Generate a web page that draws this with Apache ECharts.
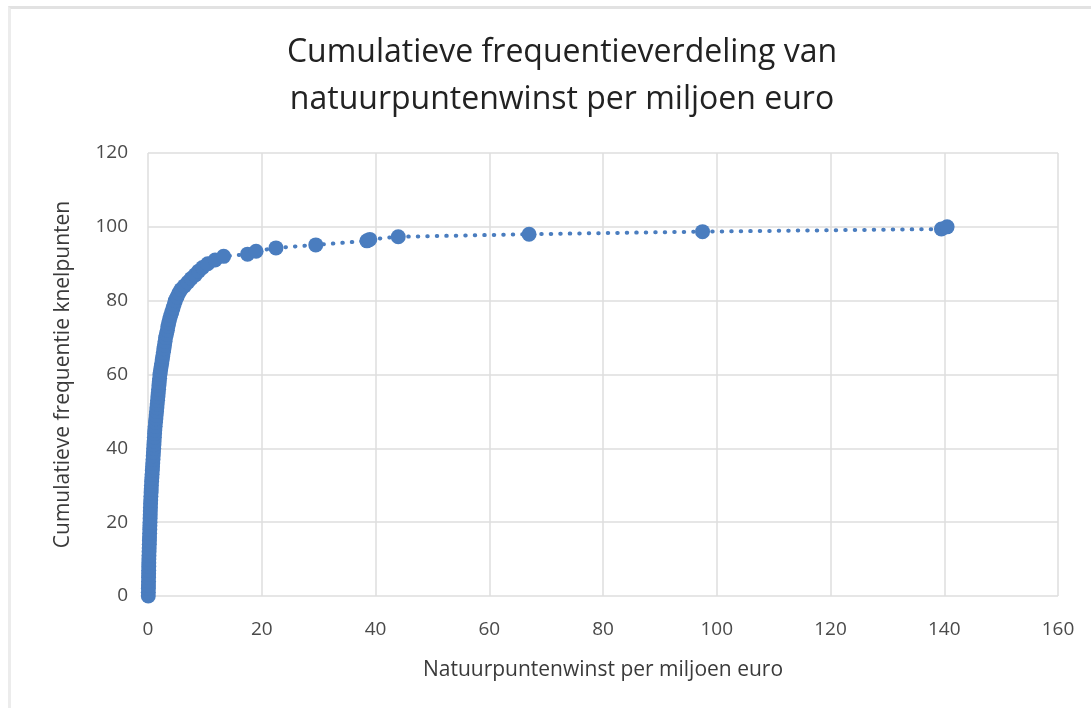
<!DOCTYPE html>
<html>
<head>
<meta charset="utf-8">
<script src="https://cdn.jsdelivr.net/npm/echarts@6/dist/echarts.min.js"></script>
<style>
  html, body { margin: 0; padding: 0; background: #fff; }
  #wrap { position: relative; width: 1091px; height: 708px; }
  #frame { position: absolute; left: 8px; top: 6px; right: 0; bottom: 0;
           border-top: 3px solid #e2e2e2; border-left: 3px solid #ececec; }
  #chart { position: absolute; left: 0; top: 0; width: 1091px; height: 708px; }
</style>
</head>
<body>
<div id="wrap">
  <div id="frame"></div>
  <div id="chart"></div>
</div>
<script>
// natuurpuntenwinst per miljoen euro (x) vs cumulatieve frequentie (y)
var winst = [0.05, 0.06, 0.07, 0.08, 0.09, 0.1, 0.11, 0.12, 0.13, 0.14,
  0.15, 0.17, 0.19, 0.21, 0.23, 0.25, 0.27, 0.29, 0.31, 0.33,
  0.35, 0.37, 0.39, 0.41, 0.43, 0.45, 0.48, 0.51, 0.54, 0.57,
  0.6, 0.64, 0.68, 0.72, 0.76, 0.8, 0.84, 0.88, 0.92, 0.96,
  1.0, 1.04, 1.08, 1.12, 1.16, 1.2, 1.26, 1.32, 1.38, 1.44,
  1.5, 1.56, 1.62, 1.68, 1.74, 1.8, 1.86, 1.92, 1.98, 2.04,
  2.1, 2.2, 2.3, 2.4, 2.5, 2.6, 2.7, 2.8, 2.9, 3.0,
  3.1, 3.25, 3.4, 3.5, 3.65, 3.8, 4.0, 4.2, 4.4, 4.6,
  4.8, 5.1, 5.4, 5.8, 6.4, 7.0, 7.6, 8.3, 8.9, 9.6,
  10.5, 11.8, 13.3,
  17.5, 19, 22.5, 29.5, 38.5, 39, 44, 67, 97.5, 139.5, 140.5];
var frequentie = [0, 1, 2, 3, 4, 5, 6, 7, 8, 9,
  10, 11, 12, 13, 14, 15, 16, 17, 18, 19,
  20, 21, 22, 23, 24, 25, 26, 27, 28, 29,
  30, 31, 32, 33, 34, 35, 36, 37, 38, 39,
  40, 41, 42, 43, 44, 45, 46, 47, 48, 49,
  50, 51, 52, 53, 54, 55, 56, 57, 58, 59,
  60, 61, 62, 63, 64, 65, 66, 67, 68, 69,
  70, 71, 72, 73, 74, 75, 76, 77, 78, 79,
  80, 81, 82, 83, 84, 85, 86, 87, 88, 89,
  90, 91, 92,
  92.6, 93.4, 94.3, 95.1, 96.2, 96.6, 97.3, 98.0, 98.7, 99.4, 100];

var titel = 'Cumulatieve frequentieverdeling van\nnatuurpuntenwinst per miljoen euro';
var xNaam = 'Natuurpuntenwinst per miljoen euro';
var yNaam = 'Cumulatieve frequentie knelpunten';

var punten = [];
for (var i = 0; i < winst.length; i++) {
  punten.push([winst[i], frequentie[i]]);
}

var chart = document.getElementById('chart');
var myChart = echarts.init(chart);
var font = "'Open Sans', sans-serif";

var option = {
  animation: false,
  title: {
    text: titel,
    left: 557,
    textAlign: 'center',
    top: 24,
    textStyle: {
      fontFamily: font,
      fontSize: 32,
      fontWeight: 'normal',
      color: '#222',
      lineHeight: 47
    }
  },
  grid: {
    left: 148,
    right: 33,
    top: 153,
    bottom: 112
  },
  xAxis: {
    type: 'value',
    min: 0,
    max: 160,
    interval: 20,
    name: xNaam,
    nameLocation: 'middle',
    nameGap: 64,
    nameTextStyle: { fontFamily: font, fontSize: 21, color: '#3a3a3a' },
    axisLine: { show: false },
    axisTick: { show: false },
    axisLabel: { fontFamily: font, fontSize: 19, color: '#4a4a4a', margin: 24 },
    splitLine: { show: true, lineStyle: { color: '#dedede', width: 1.5 } }
  },
  yAxis: {
    type: 'value',
    min: 0,
    max: 120,
    interval: 20,
    name: yNaam,
    nameLocation: 'middle',
    nameGap: 74,
    nameTextStyle: { fontFamily: font, fontSize: 21, color: '#3a3a3a' },
    axisLine: { show: false },
    axisTick: { show: false },
    axisLabel: { fontFamily: font, fontSize: 19, color: '#4a4a4a', margin: 20 },
    splitLine: { show: true, lineStyle: { color: '#dedede', width: 1.5 } }
  },
  series: [
    {
      type: 'line',
      data: punten,
      symbol: 'circle',
      symbolSize: 15,
      itemStyle: { color: '#4a7dbf' },
      lineStyle: { color: '#4a7dbf', width: 4, type: [0.5, 9], cap: 'round' }
    }
  ]
};

myChart.setOption(option);
</script>
</body>
</html>
